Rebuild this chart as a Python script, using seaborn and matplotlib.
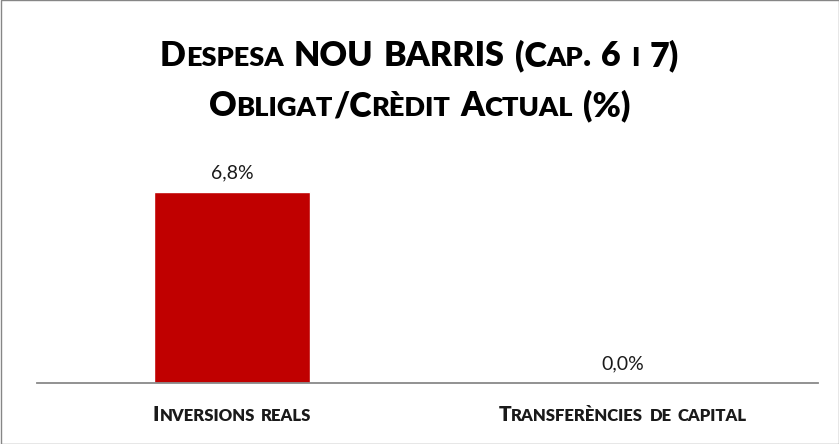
import matplotlib
matplotlib.use("Agg")
import matplotlib.pyplot as plt
import seaborn as sns
import pandas as pd
from matplotlib.offsetbox import TextArea, HPacker, AnnotationBbox
from matplotlib.patches import Rectangle

# Chart data
categories = ["Inversions reals", "Transferències de capital"]
values = [6.8, 0.0]
title_lines = ["Despesa NOU BARRIS (Cap. 6 i 7)", "Obligat/Crèdit Actual (%)"]

BAR_COLOR = "#C00000"
TEXT_COLOR = "#1a1a1a"
AXIS_COLOR = "#898989"
FONT = "Lato"

sns.set_theme(style="white")
plt.rcParams["font.family"] = [FONT, "DejaVu Sans"]

W, H = 839, 444
fig = plt.figure(figsize=(W / 100, H / 100), dpi=100)
ax = fig.add_axes([37 / W, 1 - 383 / H, (818 - 37) / W, (383 - 150) / H])

df = pd.DataFrame({"categoria": categories, "valor": values})
sns.barplot(data=df, x="categoria", y="valor", color=BAR_COLOR, width=0.4,
            saturation=1, ax=ax)
ax.set_xlim(-0.5, 1.5)
ax.set_ylim(0, 6.8 * 233 / 191)
ax.set_xlabel("")
ax.set_ylabel("")
ax.set_yticks([])
ax.tick_params(bottom=False, labelbottom=False)
for side in ("left", "top", "right"):
    ax.spines[side].set_visible(False)
ax.spines["bottom"].set_color(AXIS_COLOR)
ax.spines["bottom"].set_linewidth(1.3)

ax.bar_label(ax.containers[0],
             labels=[f"{v:.1f}%".replace(".", ",") for v in values],
             padding=8, fontsize=14, color=TEXT_COLOR)


def small_caps_box(text, size, ratio=0.8, color="black", weight="heavy"):
    """Build an HPacker that renders text in small capitals."""
    words = []
    for word in text.split(" "):
        pieces, cur, cur_small = [], "", None
        for ch in word:
            is_small = ch.islower()
            if cur and is_small != cur_small:
                pieces.append((cur, cur_small))
                cur = ""
            cur += ch
            cur_small = is_small
        if cur:
            pieces.append((cur, cur_small))
        areas = [TextArea(s.upper(),
                          textprops=dict(fontsize=size * (ratio if sm else 1),
                                         fontweight=weight, color=color,
                                         family=[FONT, "DejaVu Sans"]))
                 for s, sm in pieces]
        words.append(HPacker(children=areas, align="baseline", pad=0, sep=0))
    return HPacker(children=words, align="baseline", pad=0, sep=size * 0.3)


# Title, two lines in small caps
title_y = [1 - 56 / H, 1 - 106 / H]
for line, y in zip(title_lines, title_y):
    ab = AnnotationBbox(small_caps_box(line, 24.5), (0.5, y),
                        xycoords="figure fraction", frameon=False,
                        box_alignment=(0.5, 0.5), pad=0)
    fig.add_artist(ab)

# Category labels below the axis
for i, cat in enumerate(categories):
    ab = AnnotationBbox(small_caps_box(cat, 15, color=TEXT_COLOR), (i, -31 / 233),
                        xycoords=ax.get_xaxis_transform(), frameon=False,
                        box_alignment=(0.5, 0.5), pad=0, annotation_clip=False)
    ax.add_artist(ab)

# Outer frame
fig.add_artist(Rectangle((0.5 / W, 0.5 / H), 1 - 1 / W, 1 - 1 / H,
                         transform=fig.transFigure, fill=False,
                         edgecolor="#868686", linewidth=1))

fig.savefig("out.png", dpi=100)
